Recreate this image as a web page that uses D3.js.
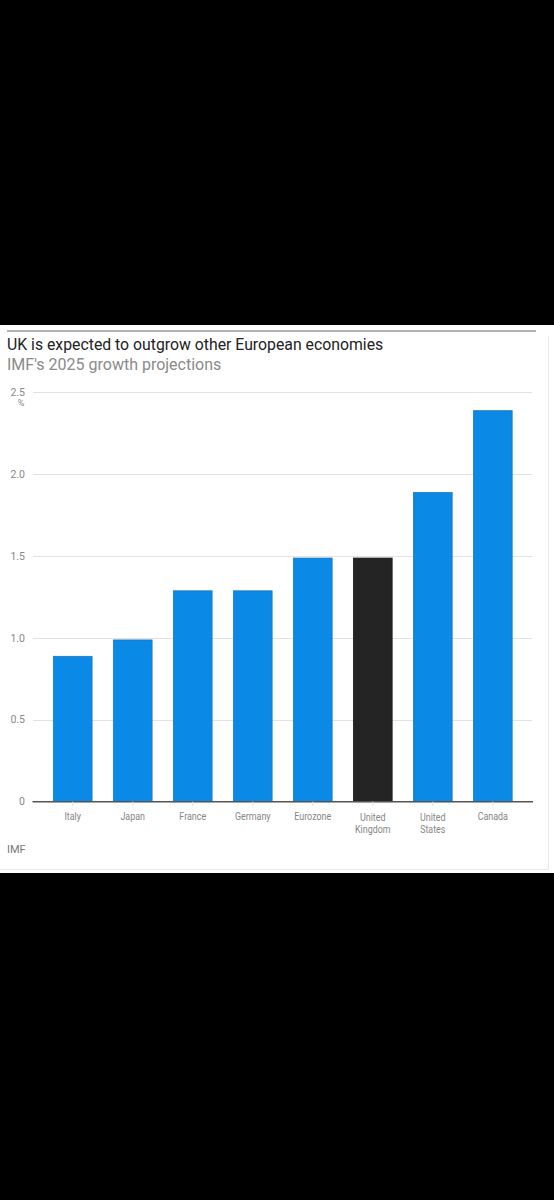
<!DOCTYPE html>
<html>
<head>
<meta charset="utf-8">
<script src="https://cdn.jsdelivr.net/npm/d3@7/dist/d3.min.js"></script>
<style>
  html, body { margin: 0; padding: 0; background: #000; }
  svg { display: block; }
</style>
</head>
<body>
<svg id="chart" width="554" height="1200"></svg>
<script>
// ---- data ----
const categories = ["Italy", "Japan", "France", "Germany", "Eurozone", "United Kingdom", "United States", "Canada"];
const labelLines = [["Italy"], ["Japan"], ["France"], ["Germany"], ["Eurozone"], ["United", "Kingdom"], ["United", "States"], ["Canada"]];
const values = [0.9, 1.0, 1.3, 1.3, 1.5, 1.5, 1.9, 2.4];
const highlight = "United Kingdom";
const yTicks = [0, 0.5, 1.0, 1.5, 2.0, 2.5];
const yTickLabels = ["0", "0.5", "1.0", "1.5", "2.0", "2.5"];
const title = "UK is expected to outgrow other European economies";
const subtitle = "IMF's 2025 growth projections";
const source = "IMF";

// ---- layout ----
const svg = d3.select("#chart");
const W = 554, H = 1200;
svg.append("rect").attr("width", W).attr("height", H).attr("fill", "#000");
svg.append("rect").attr("x", 0).attr("y", 325).attr("width", W).attr("height", 548).attr("fill", "#fff");
svg.append("line").attr("x1", 548.5).attr("x2", 548.5).attr("y1", 336).attr("y2", 869.5).attr("stroke", "#e6e6e6").attr("stroke-width", 1);
svg.append("line").attr("x1", 0).attr("x2", 548.5).attr("y1", 869.5).attr("y2", 869.5).attr("stroke", "#e6e6e6").attr("stroke-width", 1);

// top rule
svg.append("line").attr("x1", 7).attr("x2", 536).attr("y1", 331).attr("y2", 331)
  .attr("stroke", "#9a9a9a").attr("stroke-width", 1.5);

svg.append("text").attr("x", 7).attr("y", 350)
  .attr("font-family", "Roboto, 'Noto Sans', sans-serif").attr("font-size", 15.8)
  .attr("fill", "#222").text(title);
svg.append("text").attr("x", 7).attr("y", 369.5)
  .attr("font-family", "Roboto, 'Noto Sans', sans-serif").attr("font-size", 16)
  .attr("fill", "#8a8a8a").text(subtitle);

const x = d3.scaleBand().domain(categories).range([32.5, 533]).paddingInner(0.354).paddingOuter(0.347);
const y = d3.scaleLinear().domain([0, 2.5]).range([801.7, 392.3]);

// gridlines
const grid = svg.append("g");
grid.selectAll("line").data(yTicks.filter(d => d > 0)).join("line")
  .attr("x1", 33).attr("x2", 532)
  .attr("y1", d => Math.round(y(d)) + 0.5).attr("y2", d => Math.round(y(d)) + 0.5)
  .attr("stroke", "#e2e2e2").attr("stroke-width", 1);

// y labels
const yl = svg.append("g").attr("font-family", "Roboto, sans-serif").attr("font-size", 10.5).attr("fill", "#888");
yl.selectAll("text").data(yTicks).join("text")
  .attr("x", 25).attr("y", d => y(d)).attr("dy", "0.35em")
  .attr("text-anchor", "end").text((d, i) => yTickLabels[i]);
yl.append("text").attr("x", 21).attr("y", y(2.5) + 14).attr("text-anchor", "middle")
  .attr("font-size", 9).text("%");

// bars
svg.append("g").selectAll("rect").data(categories).join("rect")
  .attr("x", d => x(d)).attr("width", x.bandwidth())
  .attr("y", (d, i) => y(values[i]) + 2)
  .attr("height", (d, i) => y(0) - y(values[i]) - 2)
  .attr("fill", d => d === highlight ? "#242424" : "#0a89e6")
  .attr("stroke", d => d === highlight ? "#1a1a1a" : "#1f78c0")
  .attr("stroke-width", 0.8);

// x axis
const xa = svg.append("g").attr("transform", `translate(0,${y(0)})`)
  .call(d3.axisBottom(x).tickSize(4).tickFormat(""));
xa.select(".domain").attr("stroke", "#555").attr("stroke-width", 1.5).attr("d", "M32.5,0H533");
xa.selectAll(".tick line").attr("stroke", "#ddd");

// x labels (condensed look via horizontal scaling)
const xl = svg.append("g")
  .attr("font-family", "Roboto, 'Noto Sans', sans-serif")
  .attr("font-size", 10.5).attr("fill", "#858585").attr("text-anchor", "middle");
categories.forEach((c, i) => {
  const lines = labelLines[i];
  const cx = x(c) + x.bandwidth() / 2;
  const y0 = lines.length > 1 ? 820.5 : 819.5;
  lines.forEach((ln, j) => {
    xl.append("text")
      .attr("transform", `translate(${cx},${y0 + j * 12.3}) scale(0.85,1)`)
      .text(ln);
  });
});

svg.append("text").attr("x", 7).attr("y", 853)
  .attr("font-family", "Roboto, sans-serif").attr("font-size", 11)
  .attr("fill", "#777").text(source);
</script>
</body>
</html>
